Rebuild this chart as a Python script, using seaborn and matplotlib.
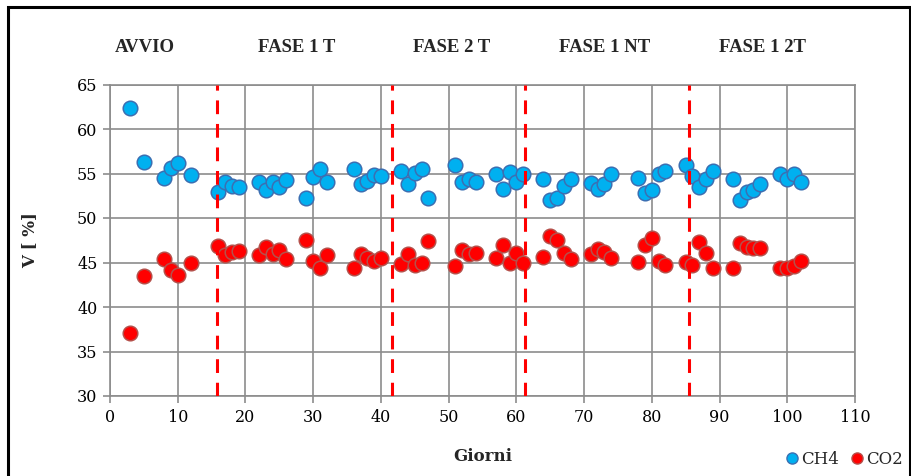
import matplotlib
matplotlib.use("Agg")
import matplotlib.pyplot as plt
import seaborn as sns
import pandas as pd
from matplotlib.patches import Rectangle
from matplotlib.lines import Line2D

# ---- data ----
giorni = [3, 5, 8, 9, 10, 12, 16, 17, 18, 19, 22, 23, 24, 25, 26, 29, 30, 31, 32,
          36, 37, 38, 39, 40, 43, 44, 45, 46, 47, 51, 52, 53, 54, 57, 58, 59, 60, 61,
          64, 65, 66, 67, 68, 71, 72, 73, 74, 78, 79, 80, 81, 82, 85, 86, 87, 88, 89,
          92, 93, 94, 95, 96, 99, 100, 101, 102]
ch4 = [62.4, 56.3, 54.5, 55.6, 56.2, 54.8, 52.9, 54.0, 53.6, 53.5,
       54.1, 53.2, 54.0, 53.5, 54.3, 52.3, 54.6, 55.5, 54.0,
       55.5, 53.8, 54.2, 54.8, 54.7, 55.3, 53.8, 55.1, 55.5, 52.3,
       55.9, 54.0, 54.4, 54.1, 55.0, 53.3, 55.2, 54.0, 54.9,
       54.4, 52.0, 52.3, 53.6, 54.4, 53.9, 53.3, 53.8, 54.9,
       54.5, 52.8, 53.2, 55.0, 55.3, 55.9, 54.7, 53.5, 54.4, 55.3,
       54.4, 52.0, 52.9, 53.1, 53.8, 54.9, 54.4, 54.9, 54.0]
co2 = [37.1, 43.5, 45.4, 44.2, 43.6, 45.0, 46.9, 45.8, 46.2, 46.3,
       45.8, 46.7, 45.9, 46.4, 45.4, 47.5, 45.2, 44.4, 45.8,
       44.4, 46.0, 45.5, 45.2, 45.5, 44.8, 46.0, 44.7, 44.9, 47.4,
       44.6, 46.4, 46.0, 46.1, 45.5, 47.0, 45.0, 46.1, 44.9,
       45.6, 48.0, 47.5, 46.1, 45.4, 46.0, 46.5, 46.2, 45.5,
       45.1, 47.0, 47.7, 45.2, 44.7, 45.1, 44.7, 47.3, 46.1, 44.4,
       44.4, 47.2, 46.7, 46.6, 46.6, 44.4, 44.4, 44.6, 45.2]
phase_names = ["AVVIO", "FASE 1 T", "FASE 2 T", "FASE 1 NT", "FASE 1 2T"]
phase_bounds = [15.8, 41.6, 61.3, 85.5]
series_names = ["CH4", "CO2"]

# ---- styling / layout ----
phase_label_x = [5.2, 27.5, 50.5, 73.1, 96.3]
fills = {"CH4": "#00B0F0", "CO2": "#FF0000"}
edges = {"CH4": "#3B6FB2", "CO2": "#B5504B"}
grid_c = "#8C8C8C"

df = pd.DataFrame({
    "Giorni": giorni + giorni,
    "V": ch4 + co2,
    "Gas": [series_names[0]] * len(giorni) + [series_names[1]] * len(giorni),
})

sns.set_theme(style="white")
plt.rcParams["font.family"] = ["DejaVu Serif"]

fig = plt.figure(figsize=(9.12, 4.76), dpi=100)
ax = fig.add_axes([110 / 912, 1 - 396 / 476, 745 / 912, 311.5 / 476])

for name in series_names:
    sub = df[df["Gas"] == name]
    sns.scatterplot(data=sub, x="Giorni", y="V", ax=ax, color=fills[name],
                    edgecolor=edges[name], linewidth=1.1, s=110, zorder=3,
                    legend=False)

for b in phase_bounds:
    ax.axvline(b, color="#FF0000", lw=2.2, dashes=(4.5, 3.2), zorder=4)

ax.set_xlim(0, 110)
ax.set_ylim(30, 65)
ax.set_xticks(range(0, 111, 10))
ax.set_yticks(range(30, 66, 5))
ax.grid(True, color=grid_c, lw=1.2, zorder=0)
ax.set_axisbelow(True)
for sp in ax.spines.values():
    sp.set_color(grid_c)
    sp.set_linewidth(1.2)
ax.tick_params(axis="both", which="major", direction="out", length=5,
               width=1.2, color=grid_c, labelsize=11.5, labelcolor="black", pad=4,
               bottom=True, left=True)

ax.set_xlabel("Giorni", fontsize=12, fontweight="bold")
ax.set_ylabel("V [ %]", fontsize=12, fontweight="bold")
ax.xaxis.set_label_coords(0.5, -0.168)
ax.yaxis.set_label_coords(-0.097, 0.5)

for name, xc in zip(phase_names, phase_label_x):
    ax.text(xc, 69.2, name, ha="center", va="center", fontsize=13.5,
            fontweight="bold", family=["Liberation Serif"], clip_on=False)

handles = [Line2D([], [], ls="none", marker="o", markersize=8,
                  markerfacecolor=fills[n], markeredgecolor=edges[n],
                  markeredgewidth=1.0, label=n) for n in series_names]
fig.legend(handles=handles, loc="center", bbox_to_anchor=(843 / 912, 1 - 459 / 476),
           ncol=2, frameon=False, fontsize=12, handletextpad=0.05,
           columnspacing=0.6, handlelength=1.0, borderpad=0)

fig.patches.append(Rectangle((8 / 912, -0.05), 902 / 912, 1 - 7 / 476 + 0.05,
                             transform=fig.transFigure, fill=False,
                             edgecolor="black", lw=2.2, zorder=10))

fig.savefig("out.png", dpi=100)
